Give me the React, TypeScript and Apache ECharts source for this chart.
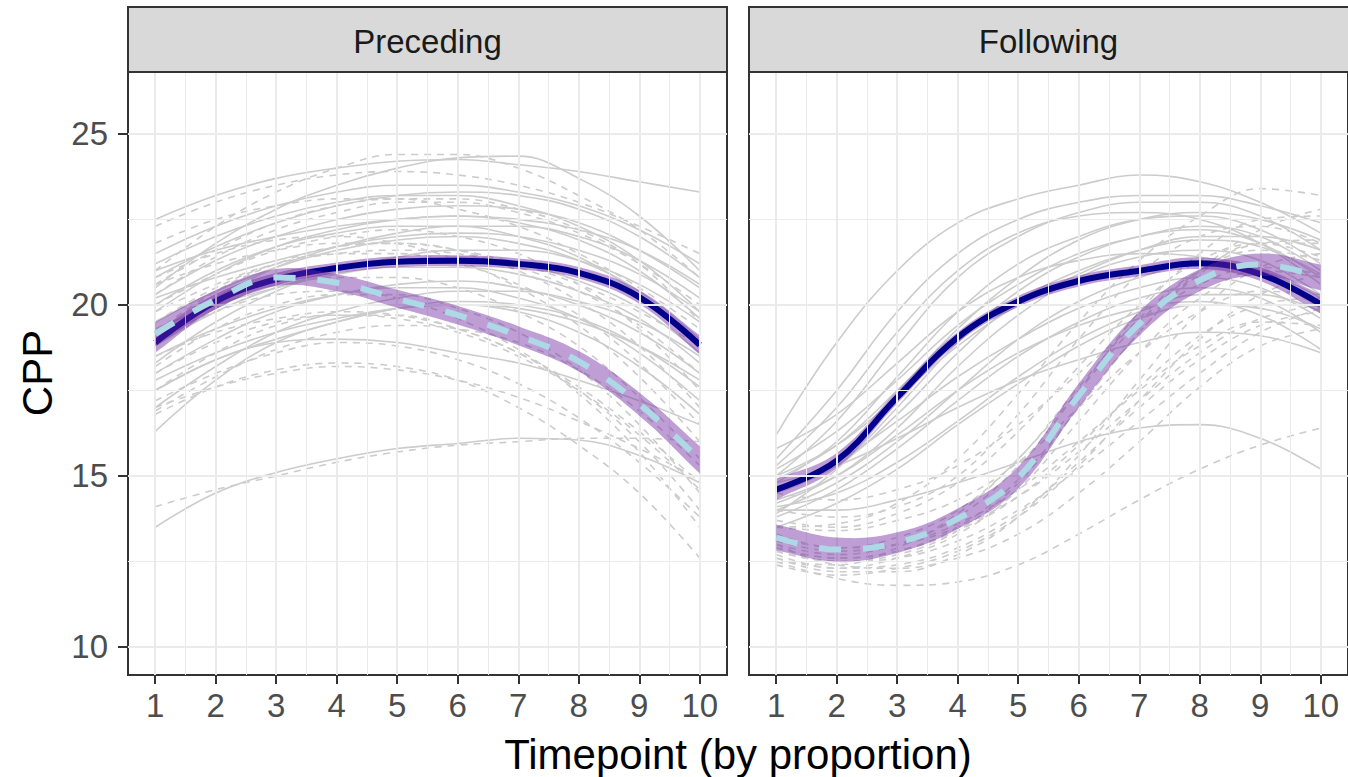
import React, { useEffect, useRef } from "react";
import * as echarts from "echarts";

// ---------- data ----------
const timepoints = [1, 2, 3, 4, 5, 6, 7, 8, 9, 10];
const xMajor = [1, 2, 3, 4, 5, 6, 7, 8, 9, 10];
const xMinor = [1.5, 2.5, 3.5, 4.5, 5.5, 6.5, 7.5, 8.5, 9.5];
const yMajor = [10, 15, 20, 25];
const yMinor = [12.5, 17.5, 22.5];
const panels = ["Preceding", "Following"];

// individual speakers – Preceding, solid
const precSolid = [
  [22.5, 23.2, 23.7, 24.0, 24.2, 24.25, 24.1, 23.9, 23.6, 23.3],
  [20.5, 21.8, 22.8, 23.5, 24.0, 24.3, 24.35, 23.7, 22.6, 21.0],
  [21.5, 22.3, 22.9, 23.3, 23.5, 23.5, 23.3, 22.9, 22.2, 21.2],
  [20.8, 21.7, 22.4, 22.9, 23.2, 23.3, 23.2, 22.8, 22.0, 20.8],
  [20.3, 21.3, 22.0, 22.5, 22.8, 22.9, 22.8, 22.4, 21.6, 20.5],
  [21.0, 21.6, 22.0, 22.3, 22.5, 22.6, 22.5, 22.2, 21.6, 20.6],
  [19.8, 20.9, 21.7, 22.2, 22.5, 22.6, 22.4, 21.9, 21.0, 19.6],
  [20.2, 20.8, 21.3, 21.7, 22.0, 22.1, 22.0, 21.6, 20.9, 19.8],
  [19.5, 20.4, 21.1, 21.6, 21.9, 22.0, 21.8, 21.3, 20.4, 19.0],
  [18.8, 19.8, 20.5, 21.0, 21.3, 21.4, 21.2, 20.7, 19.9, 18.6],
  [19.3, 20.0, 20.5, 20.9, 21.1, 21.1, 20.9, 20.4, 19.6, 18.3],
  [18.0, 19.0, 19.8, 20.3, 20.6, 20.7, 20.5, 20.0, 19.2, 18.0],
  [17.5, 18.4, 19.0, 19.5, 19.9, 20.1, 20.0, 19.6, 18.8, 17.6],
  [16.3, 17.8, 18.9, 19.5, 19.9, 20.0, 19.9, 19.5, 18.8, 17.8],
  [17.5, 18.4, 18.9, 19.0, 18.9, 18.6, 18.3, 17.8, 17.2, 16.5],
  [13.5, 14.5, 15.1, 15.5, 15.8, 15.95, 16.1, 16.05, 15.6, 14.8],
  [18.5, 19.3, 19.9, 20.3, 20.5, 20.5, 20.2, 19.6, 18.6, 17.2],
  [20.0, 21.0, 21.7, 22.1, 22.3, 22.3, 22.0, 21.4, 20.3, 18.8],
  [17.0, 18.2, 19.2, 19.8, 20.2, 20.4, 20.4, 20.1, 19.5, 18.5],
  [19.0, 20.2, 21.1, 21.7, 22.1, 22.3, 22.3, 22.0, 21.3, 20.2],
  [21.2, 22.0, 22.6, 23.0, 23.2, 23.2, 22.9, 22.3, 21.3, 19.8],
  [18.3, 19.5, 20.4, 21.0, 21.4, 21.6, 21.6, 21.3, 20.6, 19.5],
  [17.8, 18.6, 19.2, 19.6, 19.9, 20.0, 19.8, 19.2, 18.2, 16.8],
];

// individual speakers – Preceding, dashed
const precDashed = [
  [21.0, 22.3, 23.3, 24.0, 24.4, 24.4, 24.0, 23.2, 22.2, 20.8],
  [22.3, 23.0, 23.5, 23.8, 23.9, 23.8, 23.5, 23.0, 22.3, 21.5],
  [20.6, 21.6, 22.4, 22.9, 23.1, 23.1, 22.8, 22.2, 21.2, 19.5],
  [21.8, 22.5, 22.9, 23.1, 23.1, 22.8, 22.3, 21.5, 20.5, 19.3],
  [20.0, 20.9, 21.6, 22.0, 22.2, 22.0, 21.5, 20.6, 19.3, 17.5],
  [19.5, 20.5, 21.2, 21.5, 21.5, 21.2, 20.6, 19.7, 18.3, 16.5],
  [18.9, 19.8, 20.5, 20.8, 20.8, 20.5, 19.8, 18.8, 17.3, 15.5],
  [18.2, 19.3, 20.0, 20.3, 20.3, 19.9, 19.2, 18.1, 16.5, 14.5],
  [17.5, 18.6, 19.4, 19.7, 19.7, 19.3, 18.6, 17.5, 16.0, 14.0],
  [16.8, 17.6, 18.1, 18.3, 18.2, 17.8, 17.0, 15.9, 14.5, 12.6],
  [17.0, 17.6, 18.0, 18.2, 18.1, 17.8, 17.3, 16.6, 15.8, 14.9],
  [14.1, 14.6, 15.0, 15.4, 15.7, 15.9, 16.0, 16.1, 16.1, 16.0],
  [19.0, 19.8, 20.3, 20.4, 20.2, 19.6, 18.7, 17.4, 15.7, 13.5],
  [20.8, 21.5, 21.9, 22.0, 21.8, 21.3, 20.5, 19.4, 17.9, 16.0],
  [18.0, 18.9, 19.5, 19.7, 19.6, 19.2, 18.5, 17.5, 16.2, 14.6],
  [19.2, 20.4, 21.2, 21.7, 21.8, 21.6, 21.0, 20.1, 18.8, 17.0],
  [17.2, 18.0, 18.6, 18.9, 18.8, 18.4, 17.7, 16.7, 15.4, 13.8],
  [20.3, 21.4, 22.2, 22.7, 23.0, 23.0, 22.7, 22.1, 21.2, 20.0],
  [19.8, 20.6, 21.2, 21.5, 21.6, 21.5, 21.1, 20.4, 19.4, 18.0],
  [18.5, 19.2, 19.6, 19.8, 19.7, 19.3, 18.6, 17.6, 16.3, 14.8],
  [16.9, 17.9, 18.7, 19.2, 19.4, 19.3, 18.9, 18.1, 16.9, 15.3],
  [20.6, 21.2, 21.6, 21.8, 21.8, 21.6, 21.2, 20.6, 19.8, 18.8],
];

// individual speakers – Following, solid
const follSolid = [
  [16.2, 18.9, 21.0, 22.4, 23.1, 23.5, 23.8, 23.6, 23.0, 22.1],
  [15.5, 17.5, 19.8, 21.5, 22.5, 23.0, 23.2, 23.2, 22.9, 22.4],
  [15.0, 16.6, 18.8, 20.8, 22.0, 22.7, 23.0, 23.0, 22.6, 21.6],
  [14.8, 16.0, 17.9, 19.8, 21.2, 22.0, 22.5, 22.6, 22.2, 21.2],
  [15.2, 16.3, 17.8, 19.4, 20.6, 21.5, 22.0, 22.3, 22.0, 21.0],
  [14.5, 15.3, 16.8, 18.6, 20.1, 21.0, 21.6, 21.9, 21.7, 20.9],
  [14.2, 15.0, 16.4, 18.2, 19.7, 20.8, 21.4, 21.6, 21.3, 20.3],
  [15.8, 16.8, 18.3, 19.8, 20.8, 21.3, 21.5, 21.4, 20.9, 19.9],
  [14.0, 14.8, 16.0, 17.5, 19.0, 20.1, 20.8, 21.2, 21.0, 20.2],
  [14.6, 15.4, 16.6, 17.9, 19.0, 19.9, 20.5, 20.8, 20.5, 19.6],
  [13.8, 14.6, 15.8, 17.2, 18.5, 19.5, 20.2, 20.5, 20.2, 19.2],
  [14.3, 15.0, 16.2, 17.5, 18.6, 19.4, 19.9, 20.1, 19.7, 18.7],
  [13.5, 14.2, 15.2, 16.5, 17.7, 18.8, 19.6, 20.0, 19.9, 19.3],
  [14.0, 14.0, 14.3, 14.8, 15.4, 16.0, 16.4, 16.5, 16.1, 15.2],
  [15.0, 15.9, 17.3, 18.8, 20.0, 20.9, 21.6, 22.0, 22.0, 21.6],
  [14.8, 15.3, 16.1, 17.0, 17.8, 18.4, 18.9, 19.2, 19.1, 18.6],
  [13.9, 15.2, 17.0, 18.9, 20.4, 21.4, 22.0, 22.2, 21.8, 20.8],
  [15.3, 17.0, 19.2, 21.0, 22.1, 22.6, 22.7, 22.5, 21.8, 20.6],
  [14.9, 15.9, 17.5, 19.3, 20.8, 21.9, 22.5, 22.7, 22.5, 21.9],
  [14.1, 14.5, 15.4, 16.6, 17.9, 19.0, 19.8, 20.3, 20.3, 19.8],
];

// individual speakers – Following, dashed
const follDashed = [
  [13.5, 13.6, 14.2, 15.5, 17.4, 19.5, 21.3, 22.6, 23.4, 23.2],
  [13.0, 12.7, 13.0, 13.8, 15.3, 17.5, 19.8, 21.5, 22.5, 22.6],
  [12.8, 12.5, 12.7, 13.4, 14.8, 17.0, 19.2, 20.9, 21.8, 21.8],
  [13.2, 12.9, 13.2, 14.0, 15.5, 17.6, 19.6, 21.0, 21.6, 21.3],
  [12.6, 12.3, 12.6, 13.3, 14.6, 16.6, 18.6, 20.2, 21.0, 20.8],
  [13.5, 13.4, 13.7, 14.3, 15.4, 17.0, 18.6, 19.8, 20.4, 20.3],
  [12.9, 12.6, 12.8, 13.4, 14.4, 15.9, 17.6, 19.1, 20.0, 20.2],
  [14.5, 14.3, 14.6, 15.3, 16.5, 18.0, 19.5, 20.6, 21.1, 20.9],
  [12.4, 12.1, 12.3, 12.8, 13.8, 15.3, 17.2, 19.0, 20.3, 20.9],
  [13.1, 12.8, 13.0, 13.6, 14.6, 16.0, 17.5, 18.8, 19.5, 19.4],
  [12.7, 12.3, 12.4, 12.9, 13.9, 15.4, 17.0, 18.4, 19.4, 19.8],
  [13.7, 13.5, 13.9, 14.8, 16.3, 18.2, 20.0, 21.3, 21.8, 21.4],
  [12.5, 12.0, 11.8, 11.9, 12.4, 13.3, 14.3, 15.2, 15.9, 16.4],
  [12.9, 12.6, 12.8, 13.5, 14.9, 17.0, 19.2, 21.0, 22.2, 22.8],
  [13.0, 12.4, 12.3, 12.6, 13.3, 14.5, 16.0, 17.6, 18.8, 19.3],
  [14.0, 13.8, 14.1, 15.0, 16.8, 19.0, 20.9, 22.0, 22.3, 21.8],
  [12.6, 12.2, 12.2, 12.7, 13.8, 15.6, 17.8, 19.8, 21.1, 21.5],
  [12.5, 12.4, 12.9, 13.9, 15.5, 17.5, 19.5, 21.0, 21.8, 21.9],
  [13.3, 12.9, 13.0, 13.5, 14.4, 15.7, 17.2, 18.6, 19.6, 20.0],
  [12.8, 12.5, 12.6, 13.1, 14.0, 15.2, 16.6, 18.0, 19.2, 19.9],
];

// fitted means and ribbon half-widths
const precSolidMean = [18.9, 20.1, 20.75, 21.08, 21.26, 21.29, 21.2, 20.94, 20.23, 18.83];
const precSolidSE = [0.3, 0.22, 0.18, 0.16, 0.16, 0.16, 0.16, 0.17, 0.2, 0.28];
const precDashedMean = [19.15, 20.15, 20.8, 20.65, 20.18, 19.7, 19.1, 18.35, 17.1, 15.47];
const precDashedSE = [0.35, 0.28, 0.25, 0.25, 0.26, 0.27, 0.28, 0.3, 0.34, 0.4];
const follSolidMean = [14.6, 15.45, 17.3, 19.05, 20.1, 20.7, 21.0, 21.22, 20.9, 20.02];
const follSolidSE = [0.3, 0.22, 0.18, 0.16, 0.16, 0.16, 0.16, 0.17, 0.2, 0.28];
const follDashedMean = [13.2, 12.85, 13.05, 13.75, 14.95, 17.35, 19.45, 20.72, 21.18, 20.8];
const follDashedSE = [0.38, 0.35, 0.3, 0.3, 0.32, 0.35, 0.35, 0.32, 0.32, 0.38];

// ---------- styles ----------
const FONT = "Liberation Sans, Arial, Helvetica, sans-serif";
const GREY = "#cccccc";
const RIBBON = "rgba(110, 40, 160, 0.45)";
const NAVY = "#00008b";
const LIGHTBLUE = "#add8e6";

const PANEL_LEFT = [128, 749];
const PANEL_W = [599, 600];
const PANEL_TOP = 72;
const PANEL_H = 603;

function pairs(vals: number[]) {
  return timepoints.map((x, i) => [x, vals[i]]);
}

function gridSeries(g: number) {
  const major = { color: "#ebebeb", width: 2, type: "solid" };
  const minor = { color: "#ebebeb", width: 1, type: "solid" };
  return {
    type: "line",
    xAxisIndex: g,
    yAxisIndex: g,
    data: [],
    silent: true,
    z: 1,
    markLine: {
      silent: true,
      symbol: ["none", "none"],
      animation: false,
      label: { show: false },
      emphasis: { disabled: true },
      data: [
        ...xMinor.map((v) => ({ xAxis: v, lineStyle: minor })),
        ...yMinor.map((v) => ({ yAxis: v, lineStyle: minor })),
        ...xMajor.map((v) => ({ xAxis: v, lineStyle: major })),
        ...yMajor.map((v) => ({ yAxis: v, lineStyle: major })),
      ],
    },
  };
}

function greyLines(g: number, rows: number[][], dashed: boolean) {
  return rows.map((r) => ({
    type: "line",
    xAxisIndex: g,
    yAxisIndex: g,
    data: pairs(r),
    smooth: 0.4,
    symbol: "none",
    silent: true,
    z: 2,
    lineStyle: { color: GREY, width: 1.6, type: dashed ? [7, 6] : "solid" },
  }));
}

function ribbon(g: number, mean: number[], se: number[], z: number) {
  const lo = mean.map((m, i) => m - se[i]);
  const hi = mean.map((m, i) => m + se[i]);
  return {
    type: "custom",
    xAxisIndex: g,
    yAxisIndex: g,
    silent: true,
    z,
    clip: true,
    data: timepoints.map((x, i) => [x, lo[i], hi[i]]),
    encode: { x: 0, y: [1, 2] },
    renderItem: (params: any, api: any) => {
      if (params.dataIndex !== 0) return null;
      const up = timepoints.map((x, i) => api.coord([x, hi[i]]));
      const dn = timepoints.map((x, i) => api.coord([x, lo[i]])).reverse();
      const pts = [
        up[0],
        ...up,
        up[up.length - 1],
        dn[0],
        ...dn,
        dn[dn.length - 1],
      ];
      return {
        type: "polygon",
        shape: { points: pts, smooth: 0.4 },
        style: { fill: RIBBON },
      };
    },
  };
}

function meanLine(g: number, mean: number[], dashed: boolean, z: number) {
  return {
    type: "line",
    xAxisIndex: g,
    yAxisIndex: g,
    data: pairs(mean),
    smooth: 0.4,
    symbol: "none",
    silent: true,
    z,
    lineStyle: {
      color: dashed ? LIGHTBLUE : NAVY,
      width: 6,
      type: dashed ? [22, 22] : "solid",
      cap: "butt",
    },
  };
}

export default function App() {
  const ref = useRef<HTMLDivElement>(null);
  useEffect(() => {
    if (!ref.current) return;
    const chart = echarts.init(ref.current, undefined, { renderer: "svg" });

    const grids = PANEL_LEFT.map((left, i) => ({
      left,
      top: PANEL_TOP,
      width: PANEL_W[i],
      height: PANEL_H,
      show: true,
      backgroundColor: "#ffffff",
      borderColor: "#333333",
      borderWidth: 2,
    }));

    const xAxes = [0, 1].map((g) => ({
      gridIndex: g,
      type: "value",
      min: 0.55,
      max: 10.45,
      splitLine: { show: false },
      axisLine: { show: true, lineStyle: { color: "#333333", width: 2 } },
      axisTick: {
        show: true,
        customValues: xMajor,
        length: 9,
        lineStyle: { color: "#333333", width: 2 },
      },
      axisLabel: {
        customValues: xMajor,
        fontSize: 33,
        color: "#4d4d4d",
        fontFamily: FONT,
        margin: 14,
      },
    }));

    const yAxes = [0, 1].map((g) => ({
      gridIndex: g,
      type: "value",
      min: 9.18,
      max: 26.81,
      splitLine: { show: false },
      axisLine: { show: true, lineStyle: { color: "#333333", width: 2 } },
      axisTick: {
        show: g === 0,
        customValues: yMajor,
        length: 10,
        lineStyle: { color: "#333333", width: 2 },
      },
      axisLabel: {
        show: g === 0,
        customValues: yMajor,
        fontSize: 33,
        color: "#4d4d4d",
        fontFamily: FONT,
        margin: 20,
      },
    }));

    const series: any[] = [];
    series.push(gridSeries(0), gridSeries(1));
    series.push(...greyLines(0, precSolid, false));
    series.push(...greyLines(0, precDashed, true));
    series.push(...greyLines(1, follSolid, false));
    series.push(...greyLines(1, follDashed, true));
    series.push(ribbon(0, precSolidMean, precSolidSE, 3));
    series.push(meanLine(0, precSolidMean, false, 4));
    series.push(ribbon(0, precDashedMean, precDashedSE, 5));
    series.push(meanLine(0, precDashedMean, true, 6));
    series.push(ribbon(1, follSolidMean, follSolidSE, 3));
    series.push(meanLine(1, follSolidMean, false, 4));
    series.push(ribbon(1, follDashedMean, follDashedSE, 5));
    series.push(meanLine(1, follDashedMean, true, 6));

    const graphics: any[] = [];
    PANEL_LEFT.forEach((left, i) => {
      graphics.push({
        type: "rect",
        shape: { x: left, y: 7, width: PANEL_W[i], height: 65 },
        style: { fill: "#d9d9d9", stroke: "#333333", lineWidth: 2 },
        z: 10,
      });
      graphics.push({
        type: "text",
        x: left + 599 / 2,
        y: 41,
        style: {
          text: panels[i],
          fontSize: 33,
          fontFamily: FONT,
          fill: "#1a1a1a",
          align: "center",
          verticalAlign: "middle",
        },
        z: 11,
      });
    });
    graphics.push({
      type: "text",
      x: 738,
      y: 754,
      style: {
        text: "Timepoint (by proportion)",
        fontSize: 42,
        fontFamily: FONT,
        fill: "#000000",
        align: "center",
        verticalAlign: "middle",
      },
    });
    graphics.push({
      type: "text",
      x: 37,
      y: 373,
      rotation: Math.PI / 2,
      style: {
        text: "CPP",
        fontSize: 42,
        fontFamily: FONT,
        fill: "#000000",
        align: "center",
        verticalAlign: "middle",
      },
    });

    chart.setOption({
      animation: false,
      backgroundColor: "#ffffff",
      grid: grids,
      xAxis: xAxes,
      yAxis: yAxes,
      series,
      graphic: graphics,
    });
    return () => chart.dispose();
  }, []);

  return (
    <div
      ref={ref}
      style={{ position: "fixed", left: 0, top: 0, width: 1348, height: 777 }}
    />
  );
}
